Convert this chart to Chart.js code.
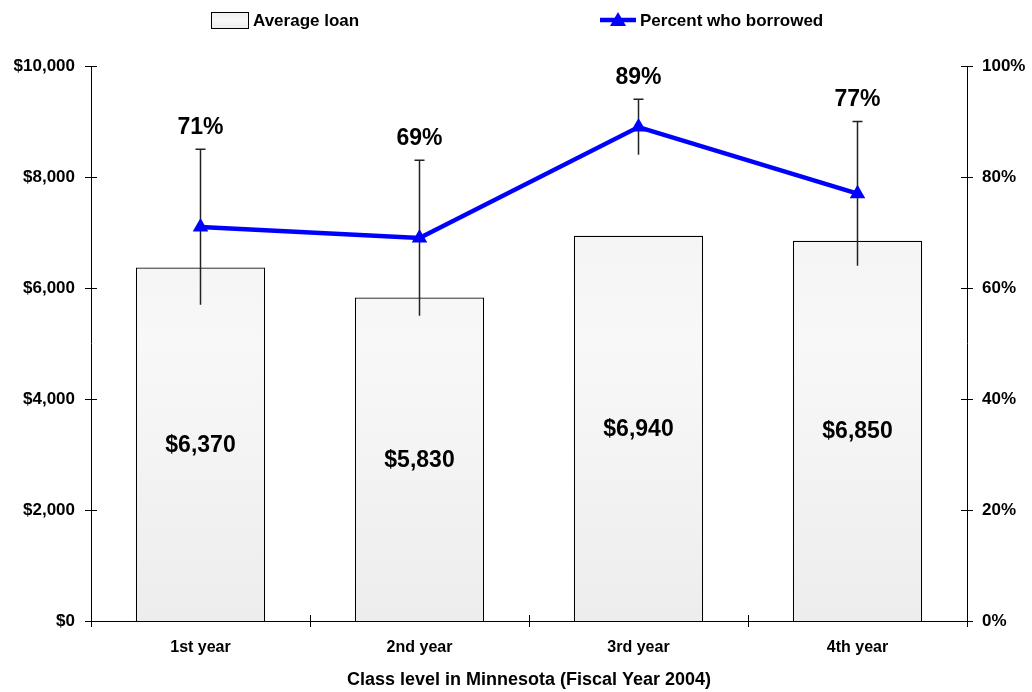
<!DOCTYPE html>
<html>
<head>
<meta charset="utf-8">
<script src="https://cdn.jsdelivr.net/npm/chart.js@4"></script>
<style>
  html, body { margin: 0; padding: 0; background: #fff; }
  #wrap { width: 1032px; height: 692px; }
</style>
</head>
<body>
<div id="wrap"><canvas id="chart" width="1032" height="692"></canvas></div>
<script>
// data
const classLevels = ["1st year", "2nd year", "3rd year", "4th year"];
const avgLoan = [6370, 5830, 6940, 6850];
const pctBorrowed = [71, 69, 89, 77];
const pctLow = [57, 55, 84, 64];
const pctHigh = [85, 83, 94, 90];
const loanTicks = [0, 2000, 4000, 6000, 8000, 10000];
const pctTicks = [0, 20, 40, 60, 80, 100];

const FONT = "'Liberation Sans', Arial, sans-serif";
const BLUE = "#0000ff";

function barFill(ctx, top, bottom) {
    const g = ctx.createLinearGradient(0, top, 0, bottom);
    g.addColorStop(0, "#efefef");
    g.addColorStop(0.5, "#f8f8f8");
    g.addColorStop(1, "#ededed");
    return g;
}

// error bars go between the bars and the blue line
const errorBars = {
    id: "errorBars",
    beforeDatasetDraw(chart, args) {
        if (args.index !== 1) return;
        const ctx = chart.ctx;
        const y = chart.scales.y1;
        const pts = chart.getDatasetMeta(1).data;
        ctx.save();
        ctx.strokeStyle = "#222";
        ctx.lineWidth = 1.5;
        pts.forEach((p, i) => {
            const t = y.getPixelForValue(pctHigh[i]);
            const b = y.getPixelForValue(pctLow[i]);
            ctx.beginPath();
            ctx.moveTo(p.x, t); ctx.lineTo(p.x, b);
            ctx.moveTo(p.x - 5, t); ctx.lineTo(p.x + 5, t);
            ctx.stroke();
        });
        ctx.restore();
    }
};

const extras = {
    id: "extras",
    afterDraw(chart) {
        const ctx = chart.ctx;
        const area = chart.chartArea;
        const x = chart.scales.x, y = chart.scales.y, y1 = chart.scales.y1;
        ctx.save();
        // axis lines and cross tick marks
        ctx.strokeStyle = "#000";
        ctx.lineWidth = 1;
        ctx.beginPath();
        ctx.moveTo(area.left + 0.5, area.top); ctx.lineTo(area.left + 0.5, area.bottom);
        ctx.moveTo(area.right + 0.5, area.top); ctx.lineTo(area.right + 0.5, area.bottom);
        ctx.moveTo(area.left, area.bottom + 0.5); ctx.lineTo(area.right, area.bottom + 0.5);
        loanTicks.forEach(v => {
            const py = Math.round(y.getPixelForValue(v)) + 0.5;
            ctx.moveTo(area.left - 6, py); ctx.lineTo(area.left + 6, py);
        });
        pctTicks.forEach(v => {
            const py = Math.round(y1.getPixelForValue(v)) + 0.5;
            ctx.moveTo(area.right - 6, py); ctx.lineTo(area.right + 6, py);
        });
        for (let i = 0; i <= classLevels.length; i++) {
            const px = Math.round(x.getPixelForValue(i - 0.5)) + 0.5;
            ctx.moveTo(px, area.bottom - 6); ctx.lineTo(px, area.bottom + 6);
        }
        ctx.stroke();

        // value labels
        ctx.fillStyle = "#000";
        ctx.textAlign = "center";
        ctx.textBaseline = "middle";
        ctx.font = "bold 23px " + FONT;
        chart.getDatasetMeta(0).data.forEach((bar, i) => {
            ctx.fillText("$" + avgLoan[i].toLocaleString("en-US"), bar.x, (bar.y + bar.base) / 2 + 1);
        });
        chart.getDatasetMeta(1).data.forEach((p, i) => {
            ctx.fillText(pctBorrowed[i] + "%", p.x, y1.getPixelForValue(pctHigh[i]) - 22);
        });

        // legend
        ctx.fillStyle = barFill(ctx, 12, 28);
        ctx.fillRect(211, 12, 37, 16);
        ctx.strokeStyle = "#000";
        ctx.strokeRect(211.5, 12.5, 37, 16);
        ctx.strokeStyle = BLUE;
        ctx.lineWidth = 4.5;
        ctx.beginPath();
        ctx.moveTo(600, 20); ctx.lineTo(636, 20);
        ctx.stroke();
        ctx.fillStyle = BLUE;
        ctx.beginPath();
        ctx.moveTo(618, 12); ctx.lineTo(626, 26); ctx.lineTo(610, 26);
        ctx.closePath(); ctx.fill();
        ctx.fillStyle = "#000";
        ctx.textAlign = "left";
        ctx.font = "bold 17px " + FONT;
        ctx.fillText("Average loan", 253, 21);
        ctx.fillText("Percent who borrowed", 640, 21);
        ctx.restore();
    }
};

new Chart(document.getElementById("chart"), {
    type: "bar",
    data: {
        labels: classLevels,
        datasets: [{
            type: "bar",
            label: "Average loan",
            data: avgLoan,
            yAxisID: "y",
            backgroundColor: c => {
                const a = c.chart.chartArea;
                if (!a) return "#f1f1f1";
                return barFill(c.chart.ctx, a.top, a.bottom);
            },
            borderColor: "#000",
            borderWidth: 1.2,
            categoryPercentage: 1,
            barPercentage: 0.59,
            order: 2
        }, {
            type: "line",
            label: "Percent who borrowed",
            data: pctBorrowed,
            yAxisID: "y1",
            borderColor: BLUE,
            borderWidth: 4.5,
            backgroundColor: BLUE,
            pointStyle: "triangle",
            pointRadius: 9,
            pointBorderWidth: 0,
            pointBackgroundColor: BLUE,
            tension: 0,
            order: 1
        }]
    },
    options: {
        responsive: false,
        animation: false,
        layout: { padding: { top: 66, left: 0, right: 0, bottom: 0 } },
        plugins: { legend: { display: false }, tooltip: { enabled: false } },
        scales: {
            x: {
                grid: { display: false, drawTicks: false },
                border: { display: false },
                ticks: { padding: 17, color: "#000", font: { family: FONT, size: 16, weight: "bold" } },
                title: {
                    display: true,
                    text: "Class level in Minnesota (Fiscal Year 2004)",
                    color: "#000",
                    font: { family: FONT, size: 18, weight: "bold" },
                    padding: { top: 0, bottom: 1 }
                },
                afterFit: s => { s.height = 71; }
            },
            y: {
                position: "left",
                min: 0, max: 10000,
                afterBuildTicks: s => { s.ticks = loanTicks.map(v => ({ value: v })); },
                grid: { display: false, drawTicks: false },
                border: { display: false },
                ticks: {
                    padding: 16, color: "#000",
                    font: { family: FONT, size: 17, weight: "bold" },
                    callback: v => "$" + Number(v).toLocaleString("en-US")
                },
                afterFit: s => { s.width = 91; }
            },
            y1: {
                position: "right",
                min: 0, max: 100,
                afterBuildTicks: s => { s.ticks = pctTicks.map(v => ({ value: v })); },
                grid: { display: false, drawTicks: false },
                border: { display: false },
                ticks: {
                    padding: 15, color: "#000",
                    font: { family: FONT, size: 17, weight: "bold" },
                    callback: v => v + "%"
                },
                afterFit: s => { s.width = 65; }
            }
        }
    },
    plugins: [errorBars, extras]
});
</script>
</body>
</html>
